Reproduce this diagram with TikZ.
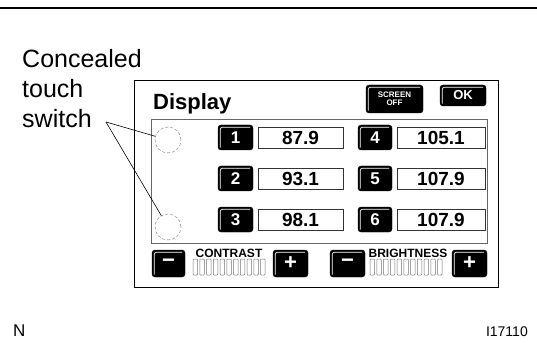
\documentclass[tikz,border=0pt]{standalone}
\usepackage{fontspec}
\setmainfont{Liberation Sans}
\usetikzlibrary{positioning}

\tikzset{
  key/.style={fill=black,draw=black,rounded corners=3pt,text=white,inner sep=0pt,
    font=\bfseries\fontsize{17}{17}\selectfont},
  valbox/.style={draw=black!80,line width=0.7pt,minimum height=21pt,inner sep=0pt,
    font=\bfseries\fontsize{19}{19}\selectfont},
  touchpad/.style={circle,draw=black!55,dash pattern=on 3pt off 2pt,minimum size=26pt,inner sep=0pt},
  bar/.style={draw=black!55,line width=0.5pt,rounded corners=0.8pt},
  hilite/.style={draw=white,line width=0.7pt,rounded corners=2pt},
}
\newcommand\keylight[1]{\draw[hilite] ([shift={(2.5pt,2.5pt)}]#1.south west) -- ([shift={(2.5pt,-2.5pt)}]#1.north west) -- ([shift={(-3pt,-2.5pt)}]#1.north east);}

\begin{document}
\begin{tikzpicture}[x=1pt,y=-1pt]
			\useasboundingbox (0,0) rectangle (537,347);
			\draw[line width=1.6pt](0,8)--(537,8);
			% panel
			\draw[line width=0.9pt](134,80) rectangle (498,287);
			\draw[black!60,line width=0.8pt](151,119) rectangle (487,243);
			\node[anchor=base west,inner sep=0pt,font=\bfseries\fontsize{22}{22}\selectfont](title) at (153,110){Display};
			\node[key,minimum width=57pt,minimum height=28pt,align=center,font=\bfseries\fontsize{8}{8}\selectfont](scroff) at (394.5,99){SCREEN\\OFF};
			\node[key,minimum width=46pt,minimum height=21pt,font=\bfseries\fontsize{13}{13}\selectfont](okkey) at (463,95.5){OK};
			\keylight{scroff}
			\keylight{okkey}
			% presets
			\foreach \n/\v/\y in {1/87.9/137.5,2/93.1/178.5,3/98.1/219.5}{
				\node[key,minimum width=35pt,minimum height=25pt](k\n) at (235.5,\y){\n};
				\node[valbox,minimum width=85pt](v\n) at (300.5,\y){\v};
				\keylight{k\n}
			}
			\foreach \n/\v/\y in {4/105.1/137.5,5/107.9/178.5,6/107.9/219.5}{
				\node[key,minimum width=34pt,minimum height=25pt](k\n) at (375,\y){\n};
				\node[valbox,minimum width=88pt](v\n) at (441,\y){\v};
				\keylight{k\n}
			}
			% contrast, brightness
			\node[key,minimum width=33pt,minimum height=27pt,font=\bfseries\fontsize{22}{22}\selectfont](cminus) at (168.5,263.5){−};
			\node[key,minimum width=35pt,minimum height=27pt,font=\bfseries\fontsize{22}{22}\selectfont](cplus) at (290.5,263.5){+};
			\node[key,minimum width=35pt,minimum height=27pt,font=\bfseries\fontsize{22}{22}\selectfont](bminus) at (347.5,263.5){−};
			\node[key,minimum width=35pt,minimum height=27pt,font=\bfseries\fontsize{22}{22}\selectfont](bplus) at (469.5,263.5){+};
			\keylight{cminus}
			\keylight{cplus}
			\keylight{bminus}
			\keylight{bplus}
			\node[anchor=base,inner sep=0pt,font=\bfseries\fontsize{12}{12}\selectfont](ctext) at (229,257){CONTRAST};
			\node[anchor=base,inner sep=0pt,font=\bfseries\fontsize{12}{12}\selectfont](btext) at (408,257){BRIGHTNESS};
			\foreach \i in {0,...,10}{
				\draw[bar]({193+\i*6.75},259) rectangle ++(4.5,16);
				\draw[bar]({370+\i*6.75},259) rectangle ++(4.5,16);
			}
			% concealed switches
			\node[touchpad](t1) at (168,140){};
			\node[touchpad](t2) at (168,227){};
			\node[anchor=base west,align=left,inner sep=0pt,font=\fontsize{25}{30}\selectfont](cts) at (22,128){Concealed\\touch\\switch};
			\coordinate(lab) at (106,122);
			\draw[line width=0.6pt](lab)--(t1);
			\draw[line width=0.6pt](lab)--(t2);
			\node[anchor=base west,inner sep=0pt,font=\fontsize{17}{17}\selectfont](nmark) at (13,336){N};
			\node[anchor=base east,inner sep=0pt,font=\fontsize{14}{14}\selectfont](fig) at (528,336){I17110};
		\end{tikzpicture}
\end{document}
